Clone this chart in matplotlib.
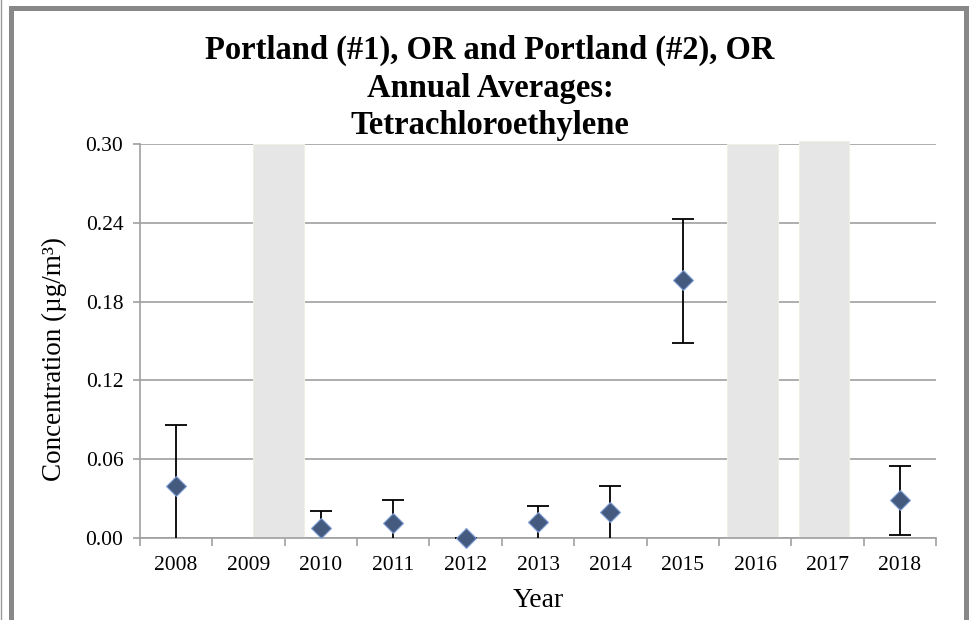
import numpy as np
import matplotlib.pyplot as plt
from matplotlib.patches import Rectangle
from matplotlib.lines import Line2D

plt.rcParams["font.family"] = ["Liberation Serif", "DejaVu Serif"]

years = ["2008", "2009", "2010", "2011", "2012", "2013", "2014", "2015", "2016", "2017", "2018"]
# annual averages (NaN where there is no data)
avg = [0.0395, np.nan, 0.0076, 0.0114, 0.0, 0.012, 0.0198, 0.1965, np.nan, np.nan, 0.029]
upper = [0.086, np.nan, 0.0206, 0.029, 0.0, 0.024, 0.0396, 0.243, np.nan, np.nan, 0.055]
# lower ends below zero are cut off at the axis, like in the original
lower = [-0.01, np.nan, -0.01, -0.01, 0.0, -0.01, -0.01, 0.1485, np.nan, np.nan, 0.0023]
# shaded years without data
no_data_years = ["2009", "2016", "2017"]
no_data_top = [0.30, 0.30, 0.302]
no_data_shift = [0.41, -0.04, -0.05]

fig = plt.figure(figsize=(9.79, 6.20), dpi=100)
ax = fig.add_axes([140 / 979, 82 / 620, 796 / 979, 394 / 620])

x = np.arange(len(years))
avg_a = np.array(avg)
yerr = np.array([avg_a - np.array(lower), np.array(upper) - avg_a])

ax.set_ylim(0, 0.30)
ax.set_xlim(-0.5, len(years) - 0.5)
yt = [0.0, 0.06, 0.12, 0.18, 0.24, 0.30]
ax.set_yticks(yt)
ax.set_yticklabels(["%.2f" % v for v in yt])
ax.grid(axis="y", color="#a0a0a0", linewidth=1.2, zorder=0)
ax.set_axisbelow(True)

# no data bands
for yr, top, sh in zip(no_data_years, no_data_top, no_data_shift):
    ax.bar(years.index(yr) + sh, top, width=0.7, color="#e6e6e6", edgecolor="#f0efe6",
           linewidth=0.8, zorder=2, clip_on=False)

ax.errorbar(x, avg_a, yerr=yerr, fmt="none", ecolor="black", elinewidth=1.3,
            capsize=8, capthick=1.3, zorder=3)
ax.plot(x, avg_a, linestyle="none", marker="D", markersize=10.5, color="#445a7e",
        markeredgecolor="#7f9fd6", markeredgewidth=0.8, zorder=4, clip_on=False)

for s in ["top", "right"]:
    ax.spines[s].set_visible(False)
for s in ["left", "bottom"]:
    ax.spines[s].set_color("#a0a0a0")
    ax.spines[s].set_linewidth(1.2)

ax.set_xticks(np.arange(-0.5, len(years), 1.0))
ax.set_xticklabels([])
ax.set_xticks(x, minor=True)
ax.set_xticklabels(years, minor=True)
ax.tick_params(axis="x", which="major", length=6, color="#a0a0a0", width=1.2)
ax.tick_params(axis="x", which="minor", length=0, labelsize=15.5, pad=13)
ax.tick_params(axis="y", length=5, color="#a0a0a0", width=1.2, labelsize=15.5, pad=7)

ax.set_xlabel("Year", fontsize=20, labelpad=9)
ax.set_ylabel("Concentration (µg/m³)", fontsize=19.5, labelpad=13)
ax.yaxis.label.set_y(0.455)

fig.suptitle("Portland (#1), OR and Portland (#2), OR\nAnnual Averages:\nTetrachloroethylene",
             x=490 / 979, y=1 - 35 / 620, fontsize=23.5, fontweight="bold", linespacing=1.27, va="top")

# outer frame
fig.patches.append(Rectangle((11 / 979, -0.05), 955 / 979, (620 - 8) / 620 + 0.05,
                             transform=fig.transFigure, fill=False, edgecolor="#888888",
                             linewidth=3.6))
fig.lines.append(Line2D([1 / 979, 1 / 979], [0, 1], transform=fig.transFigure,
                        color="#999999", linewidth=1.0))

fig.savefig("out.png", dpi=100)
